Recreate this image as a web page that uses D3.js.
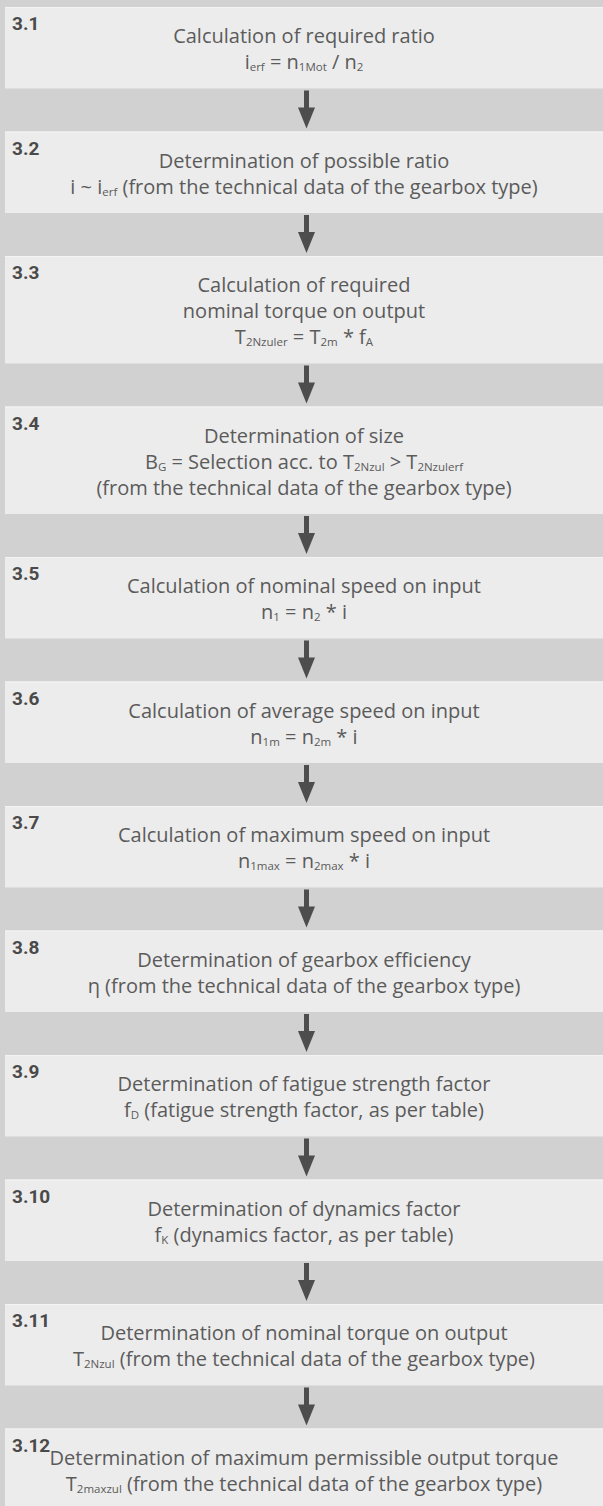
<!DOCTYPE html>
<html>
<head>
<meta charset="utf-8">
<script src="https://cdn.jsdelivr.net/npm/d3@7"></script>
<style>
  html, body { margin: 0; padding: 0; background: #d0d1d0; }
  svg { display: block; }
  .title { font-family: "Open Sans", Roboto, sans-serif; fill: #5b5b5b; }
  .step { font-family: Roboto, "DejaVu Sans", sans-serif; font-weight: bold; fill: #4a4a4a; }
</style>
</head>
<body>
<div id="chart"></div>
<script>
// step numbers of the selection procedure
var stepLabels = ["3.1", "3.2", "3.3", "3.4", "3.5", "3.6", "3.7", "3.8", "3.9", "3.10", "3.11", "3.12"];

// text lines of every step, _{..} marks a subscript
var stepLines = [
	["Calculation of required ratio", "i_{erf} = n_{1Mot} / n_{2}"],
	["Determination of possible ratio", "i ~ i_{erf} (from the technical data of the gearbox type)"],
	["Calculation of required", "nominal torque on output", "T_{2Nzuler} = T_{2m} * f_{A}"],
	["Determination of size", "B_{G} = Selection acc. to T_{2Nzul} > T_{2Nzulerf}", "(from the technical data of the gearbox type)"],
	["Calculation of nominal speed on input", "n_{1} = n_{2} * i"],
	["Calculation of average speed on input", "n_{1m} = n_{2m} * i"],
	["Calculation of maximum speed on input", "n_{1max} = n_{2max} * i"],
	["Determination of gearbox efficiency", "η (from the technical data of the gearbox type)"],
	["Determination of fatigue strength factor", "f_{D} (fatigue strength factor, as per table)"],
	["Determination of dynamics factor", "f_{K} (dynamics factor, as per table)"],
	["Determination of nominal torque on output", "T_{2Nzul} (from the technical data of the gearbox type)"],
	["Determination of maximum permissible output torque", "T_{2maxzul} (from the technical data of the gearbox type)"]
];

var width = 603;
var height = 1506;
var boxLeft = 5;
var topPad = 7;
var gap = 43;
var lineHeight = 26;
var firstBaseline = 36;
var bottomPad = 19.5;

var svg = d3.select("#chart").append("svg")
	.attr("width", width)
	.attr("height", height);

svg.append("rect")
	.attr("width", width)
	.attr("height", height)
	.attr("fill", "#d0d1d0");

// box heights from the number of lines, then cumulative tops
var boxHeights = stepLines.map(function(l) { return firstBaseline + lineHeight * (l.length - 1) + bottomPad; });
var tops = [];
var y = topPad;
for (var i = 0; i < boxHeights.length; i++) {
	tops.push(y);
	y += boxHeights[i] + gap;
}

var cx = (boxLeft + width) / 2;

var steps = svg.selectAll("g.box")
	.data(stepLabels)
	.enter().append("g")
	.attr("class", "box")
	.attr("transform", function(d, i) { return "translate(0," + tops[i] + ")"; });

steps.append("rect")
	.attr("x", boxLeft)
	.attr("y", 0)
	.attr("width", width - boxLeft)
	.attr("height", function(d, i) { return boxHeights[i]; })
	.attr("fill", "#ececec");

steps.append("line")
	.attr("x1", boxLeft).attr("x2", width)
	.attr("y1", 0.5).attr("y2", 0.5)
	.attr("stroke", "#f4f4f4");

steps.append("text")
	.attr("class", "step")
	.attr("x", 12)
	.attr("y", 23)
	.style("font-size", "19px")
	.text(function(d) { return d; });

// split "a_{b}c" into normal / subscript parts
function parts(s) {
	var out = [];
	var re = /_\{([^}]*)\}/g;
	var last = 0, m;
	while ((m = re.exec(s)) !== null) {
		if (m.index > last) out.push({t: s.slice(last, m.index), sub: false});
		out.push({t: m[1], sub: true});
		last = re.lastIndex;
	}
	if (last < s.length) out.push({t: s.slice(last), sub: false});
	return out;
}

steps.each(function(d, i) {
	var g = d3.select(this);
	stepLines[i].forEach(function(line, j) {
		var t = g.append("text")
			.attr("class", "title")
			.attr("x", cx)
			.attr("y", firstBaseline + j * lineHeight)
			.attr("text-anchor", "middle")
			.style("font-size", "20px");
		var shift = 0;
		parts(line).forEach(function(p) {
			var ts = t.append("tspan").text(p.t);
			//only relative shifts, absolute y would split the anchored chunk
			var target = p.sub ? 2 : 0;
			if (target != shift) ts.attr("dy", target - shift);
			shift = target;
			if (p.sub) ts.style("font-size", "11.5px");
		});
	});
});

// arrows between boxes
var arrows = svg.selectAll("g.arrow")
	.data(d3.range(stepLabels.length - 1))
	.enter().append("g")
	.attr("class", "arrow")
	.attr("transform", function(i) { return "translate(" + (cx + 2.5) + "," + (tops[i] + boxHeights[i]) + ")"; });

arrows.append("rect")
	.attr("x", -2.5)
	.attr("y", 2)
	.attr("width", 5)
	.attr("height", 18)
	.attr("fill", "#4d4d4d");

arrows.append("path")
	.attr("d", "M-8.5,19 L8.5,19 L0,40 Z")
	.attr("fill", "#4d4d4d");
</script>
</body>
</html>
